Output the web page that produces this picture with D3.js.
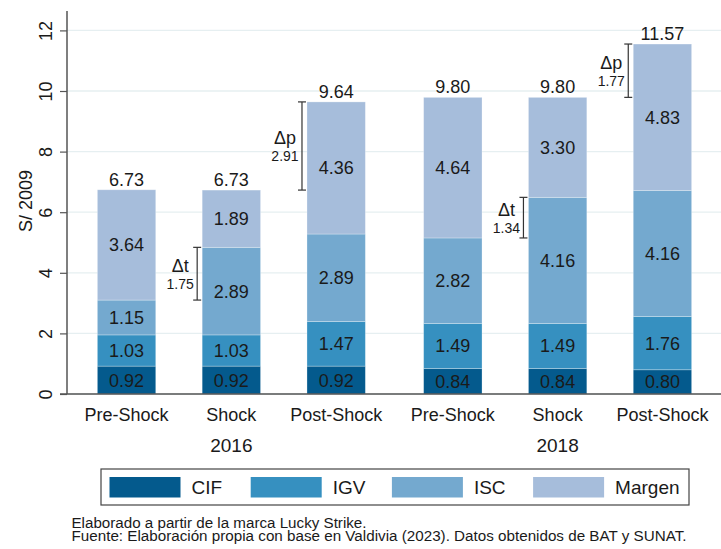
<!DOCTYPE html>
<html>
<head>
<meta charset="utf-8">
<script src="https://cdn.jsdelivr.net/npm/d3@7"></script>
<style>
  body { margin: 0; background: white; }
  text { font-family: "Liberation Sans", Arial, sans-serif; fill: #1a1a1a; }
</style>
</head>
<body>
<script>
/**
 * Chart data
 */

const YEARS = ["2016", "2018"];
const PHASES = ["Pre-Shock", "Shock", "Post-Shock"];
const SERIES = ["CIF", "IGV", "ISC", "Margen"];

// one value per bar, order: 2016 Pre, Shock, Post, 2018 Pre, Shock, Post
const CIF = [0.92, 0.92, 0.92, 0.84, 0.84, 0.80];
const IGV = [1.03, 1.03, 1.47, 1.49, 1.49, 1.76];
const ISC = [1.15, 2.89, 2.89, 2.82, 4.16, 4.16];
const MARGEN = [3.64, 1.89, 4.36, 4.64, 3.30, 4.83];
const TOTALS = [6.73, 6.73, 9.64, 9.80, 9.80, 11.57];

const Y_TICKS = [0, 2, 4, 6, 8, 10, 12];

// brackets: bar index, kind (t = tax step, p = price step), label value
const DELTA_BARS = [1, 2, 4, 5];
const DELTA_KINDS = ["t", "p", "t", "p"];
const DELTA_VALUES = [1.75, 2.91, 1.34, 1.77];

const NOTES = [
    "Elaborado a partir de la marca Lucky Strike.",
    "Fuente: Elaboración propia con base en Valdivia (2023). Datos obtenidos de BAT y SUNAT."
];

/**
 * Layout constants
 */

const WIDTH = 721;
const HEIGHT = 549;

const PLOT_LEFT = 67;
const PLOT_RIGHT = 721;
const PLOT_TOP = 11;
const PLOT_BOTTOM = 394;

const COLORS = ["#045a8d", "#3690c0", "#74a9cf", "#a6bddb"];
const GRID_COLOR = "#e6eff1";
const AXIS_COLOR = "#555";

const NOTE_WIDTHS = [295, 615];   // measured widths of the two note lines

const svg = d3.select("body")
    .append("svg")
    .attr("width", WIDTH)
    .attr("height", HEIGHT);

const y = d3.scaleLinear()
    .domain([0, 12])
    .range([PLOT_BOTTOM, 30.4]);

const x0 = d3.scaleBand()
    .domain(YEARS)
    .range([PLOT_LEFT + 1, PLOT_RIGHT])
    .paddingInner(0.1786)
    .paddingOuter(0.09);

const x1 = d3.scaleBand()
    .domain(PHASES)
    .range([0, x0.bandwidth()])
    .paddingInner(0.443)
    .paddingOuter(0);

// rows for d3.stack
const rows = [];
YEARS.forEach((yr, gi) => {
    PHASES.forEach((ph, pi) => {
        let i = gi * PHASES.length + pi;
        rows.push({
            year: yr, phase: ph, total: TOTALS[i],
            CIF: CIF[i], IGV: IGV[i], ISC: ISC[i], Margen: MARGEN[i]
        });
    });
});

const stacked = d3.stack().keys(SERIES)(rows);

function barX(i) {
    return x0(rows[i].year) + x1(rows[i].phase);
}

function drawGrid() {
    svg.append("g")
        .selectAll("line")
        .data(Y_TICKS)
        .join("line")
        .attr("x1", PLOT_LEFT)
        .attr("x2", PLOT_RIGHT)
        .attr("y1", d => y(d))
        .attr("y2", d => y(d))
        .attr("stroke", GRID_COLOR)
        .attr("stroke-width", 1.3);
}

function drawBars() {
    const layer = svg.append("g")
        .selectAll("g")
        .data(stacked)
        .join("g")
        .attr("fill", (d, i) => COLORS[i]);

    layer.selectAll("rect")
        .data(d => d)
        .join("rect")
        .attr("x", d => x0(d.data.year) + x1(d.data.phase))
        .attr("width", x1.bandwidth())
        .attr("y", d => y(d[1]))
        .attr("height", d => y(d[0]) - y(d[1]))
        .attr("stroke", "#ffffff")
        .attr("stroke-opacity", 0.35)
        .attr("stroke-width", 0.8);

    // value inside each segment
    layer.selectAll("text")
        .data((d) => d.map(v => ({ v: v, key: d.key })))
        .join("text")
        .attr("x", d => x0(d.v.data.year) + x1(d.v.data.phase) + x1.bandwidth() / 2)
        .attr("y", d => y((d.v[0] + d.v[1]) / 2))
        .attr("dy", "0.36em")
        .attr("text-anchor", "middle")
        .attr("font-size", 18)
        .text(d => d3.format(".2f")(d.v.data[d.key]));

    // totals above the bars
    svg.append("g")
        .selectAll("text")
        .data(rows)
        .join("text")
        .attr("x", d => x0(d.year) + x1(d.phase) + x1.bandwidth() / 2)
        .attr("y", (d, i) => y(stacked[3][i][1]) - 4)
        .attr("text-anchor", "middle")
        .attr("font-size", 18)
        .text(d => d3.format(".2f")(d.total));
}

function drawAxes() {
    // y axis
    const yAxis = svg.append("g")
        .attr("transform", `translate(${PLOT_LEFT},0)`)
        .call(d3.axisLeft(y).tickValues(Y_TICKS).tickSize(7).tickFormat(d3.format("d")));
    yAxis.select(".domain").remove();
    yAxis.selectAll(".tick line").attr("stroke", AXIS_COLOR).attr("stroke-width", 1.2);
    yAxis.selectAll(".tick text")
        .attr("font-size", 18)
        .attr("font-family", "Liberation Sans, Arial, sans-serif")
        .attr("fill", "#1a1a1a")
        .attr("text-anchor", "middle")
        .attr("x", 0)
        .attr("dy", 0)
        .attr("transform", "translate(-15,0) rotate(-90)");

    svg.append("line")
        .attr("x1", PLOT_LEFT).attr("x2", PLOT_LEFT)
        .attr("y1", PLOT_TOP).attr("y2", PLOT_BOTTOM)
        .attr("stroke", AXIS_COLOR).attr("stroke-width", 1.5);

    svg.append("line")
        .attr("x1", PLOT_LEFT - 7).attr("x2", PLOT_RIGHT)
        .attr("y1", PLOT_BOTTOM).attr("y2", PLOT_BOTTOM)
        .attr("stroke", AXIS_COLOR).attr("stroke-width", 1.5);

    svg.append("text")
        .attr("transform", `translate(32,201) rotate(-90)`)
        .attr("text-anchor", "middle")
        .attr("font-size", 18)
        .text("S/ 2009");

    // phase labels
    svg.append("g")
        .selectAll("text")
        .data(rows)
        .join("text")
        .attr("x", d => x0(d.year) + x1(d.phase) + x1.bandwidth() / 2)
        .attr("y", 421)
        .attr("text-anchor", "middle")
        .attr("font-size", 18)
        .text(d => d.phase);

    // year labels
    svg.append("g")
        .selectAll("text")
        .data(YEARS)
        .join("text")
        .attr("x", d => x0(d) + x0.bandwidth() / 2)
        .attr("y", 452)
        .attr("text-anchor", "middle")
        .attr("font-size", 19)
        .text(d => d);
}

function drawBrackets() {
    DELTA_BARS.forEach((b, k) => {
        // Δt spans the ISC tops, Δp spans the totals
        let layerIdx = DELTA_KINDS[k] == "t" ? 2 : 3;
        let lo = stacked[layerIdx][b - 1][1];
        let hi = stacked[layerIdx][b][1];
        let bx = barX(b) - 5;
        let y1 = y(hi), y2 = y(lo);
        let mid = (y1 + y2) / 2;

        const g = svg.append("g")
            .attr("stroke", "#333")
            .attr("stroke-width", 1.2);
        g.append("line").attr("x1", bx).attr("x2", bx).attr("y1", y1).attr("y2", y2);
        g.append("line").attr("x1", bx - 4).attr("x2", bx + 4).attr("y1", y1).attr("y2", y1);
        g.append("line").attr("x1", bx - 4).attr("x2", bx + 4).attr("y1", y2).attr("y2", y2);

        svg.append("text")
            .attr("x", bx - 17)
            .attr("y", mid - 8)
            .attr("dy", "0.36em")
            .attr("text-anchor", "middle")
            .attr("font-size", 18)
            .text("Δ" + DELTA_KINDS[k]);

        svg.append("text")
            .attr("x", bx - 17)
            .attr("y", mid + 10)
            .attr("dy", "0.36em")
            .attr("text-anchor", "middle")
            .attr("font-size", 14)
            .text(d3.format(".2f")(DELTA_VALUES[k]));
    });
}

function drawLegend() {
    svg.append("rect")
        .attr("x", 101).attr("y", 469)
        .attr("width", 588).attr("height", 36)
        .attr("fill", "white")
        .attr("stroke", "#444")
        .attr("stroke-width", 1.2);

    const item = svg.append("g")
        .selectAll("g")
        .data(SERIES)
        .join("g")
        .attr("transform", (d, i) => `translate(${109.5 + i * 141.2},477)`);

    item.append("rect")
        .attr("width", 71)
        .attr("height", 20.5)
        .attr("fill", (d, i) => COLORS[i]);

    item.append("text")
        .attr("x", 82)
        .attr("y", 17)
        .attr("font-size", 19)
        .text(d => d);
}

function drawNotes() {
    svg.append("g")
        .selectAll("text")
        .data(NOTES)
        .join("text")
        .attr("x", 71.5)
        .attr("y", (d, i) => 528 + i * 13)
        .attr("font-size", 14)
        .attr("textLength", (d, i) => NOTE_WIDTHS[i])
        .attr("lengthAdjust", "spacingAndGlyphs")
        .text(d => d);
}

function main() {
    drawGrid();
    drawBars();
    drawAxes();
    drawBrackets();
    drawLegend();
    drawNotes();
}

main()
</script>
</body>
</html>
